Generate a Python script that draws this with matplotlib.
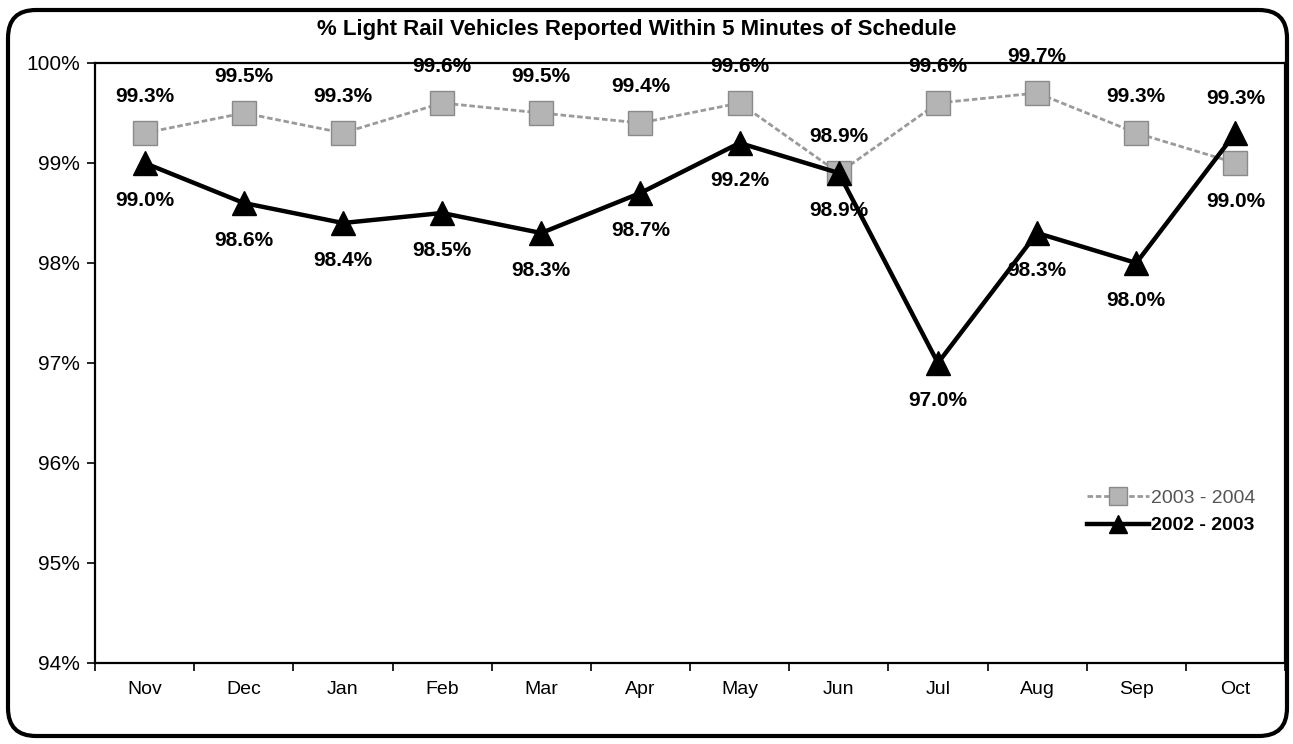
import numpy as np
import matplotlib
matplotlib.use("Agg")
from matplotlib import pyplot as plt
from matplotlib.patches import FancyBboxPatch
from matplotlib.transforms import IdentityTransform

plt.rcParams['font.family'] = ['Liberation Sans', 'DejaVu Sans']

months = ["Nov", "Dec", "Jan", "Feb", "Mar", "Apr", "May", "Jun", "Jul", "Aug", "Sep", "Oct"]
y2003_2004 = [99.3, 99.5, 99.3, 99.6, 99.5, 99.4, 99.6, 98.9, 99.6, 99.7, 99.3, 99.0]
y2002_2003 = [99.0, 98.6, 98.4, 98.5, 98.3, 98.7, 99.2, 98.9, 97.0, 98.3, 98.0, 99.3]
y_ticks = [94, 95, 96, 97, 98, 99, 100]

fig = plt.figure(figsize=(12.93, 7.44), dpi=100)
ax = fig.add_axes([95 / 1293, 81 / 744, 1190 / 1293, 600 / 744])

x = np.arange(len(months))

ax.plot(x, y2003_2004, color="#9a9a9a", lw=2, ls=(0, (2, 1)), marker="s", ms=17,
        mfc="#b4b4b4", mec="#8a8a8a", mew=1, label="2003 - 2004", zorder=3)
ax.plot(x, y2002_2003, color="black", lw=3.2, marker="^", ms=17,
        mfc="black", mec="black", label="2002 - 2003", zorder=4)

# data labels: grey series above, black series below (swapped for Oct)
for i, (a, b) in enumerate(zip(y2003_2004, y2002_2003)):
    off_a, off_b = 26, -27
    if i == len(months) - 1:
        off_a, off_b = -28, 25
    ax.annotate(f"{a:.1f}%", (x[i], a), xytext=(0, off_a), textcoords="offset points",
                ha="center", va="center", fontsize=15, fontweight="bold", zorder=5)
    ax.annotate(f"{b:.1f}%", (x[i], b), xytext=(0, off_b), textcoords="offset points",
                ha="center", va="center", fontsize=15, fontweight="bold", zorder=5)

ax.set_xlim(-0.5, len(months) - 0.5)
ax.set_ylim(94, 100)
ax.set_yticks(y_ticks)
ax.set_yticklabels([f"{t}%" for t in y_ticks], fontsize=15)
ax.set_xticks(x)
ax.set_xticklabels(months, fontsize=14)
ax.set_xticks(np.arange(-0.5, len(months), 1), minor=True)
ax.tick_params(axis="x", which="major", length=0, pad=13)
ax.tick_params(axis="x", which="minor", length=6, width=1.2)
ax.tick_params(axis="y", length=6, width=1.2, pad=5)
for s in ax.spines.values():
    s.set_linewidth(1.6)

ax.set_title("% Light Rail Vehicles Reported Within 5 Minutes of Schedule",
             fontsize=16, fontweight="bold", pad=20, x=0.455)

leg = ax.legend(loc="lower right", bbox_to_anchor=(0.99, 0.185), frameon=False, fontsize=14,
                handlelength=3.2, handletextpad=0.1, labelspacing=0.5, markerscale=0.8)
leg.get_texts()[0].set_color("#555555")
leg.get_texts()[1].set_fontweight("bold")

# rounded outer border
border = FancyBboxPatch((8, 8), 1279, 726, boxstyle="round,pad=0,rounding_size=28",
                        transform=IdentityTransform(), fill=False, lw=3, ec="black")
fig.patches.append(border)

fig.savefig("out.png", dpi=100)
